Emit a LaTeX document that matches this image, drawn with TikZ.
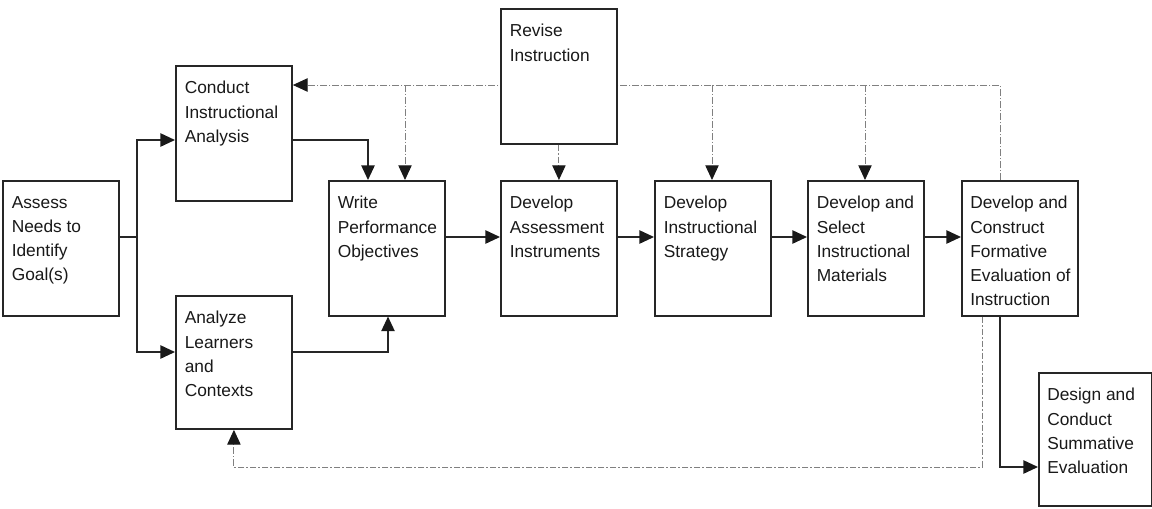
\documentclass[tikz,border=0pt]{standalone}
\usepackage{fontspec}
\setmainfont{Liberation Sans}
\usetikzlibrary{arrows.meta,backgrounds}
\begin{document}
\begin{tikzpicture}[x=0.75pt,y=-0.75pt,
  box/.style={draw=black!85, line width=1.4pt, fill=white, anchor=north west, inner sep=0pt, minimum width=87pt, minimum height=101pt},
  txt/.style={anchor=north west, inner sep=0pt, align=left, font=\fontsize{13}{18.2}\selectfont, text=black!90},
  tip/.style={-{Triangle[length=11pt,width=10pt,color=black!90]}},
  flow/.style={draw=black!85, line width=1.2pt, tip},
  plain/.style={draw=black!85, line width=1.2pt},
  fb/.style={draw=black!50, line width=0.7pt, dash pattern=on 5pt off 1.5pt on 1pt off 1.5pt, tip}]
\useasboundingbox (0,0) rectangle (1152,508);
% boxes
\node[box] (assess) at (2,180) {};
\node[box] (conduct) at (175,65) {};
\node[box, minimum height=99.75pt] (analyze) at (175,295) {};
\node[box] (write) at (328,180) {};
\node[box] (assessinst) at (500,180) {};
\node[box] (revise) at (500,8) {};
\node[box] (strategy) at (654,180) {};
\node[box] (select) at (807,180) {};
\node[box] (formative) at (961,180) {};
\node[box, minimum width=84.75pt, minimum height=99.75pt] (summative) at (1038,372) {};
% texts
\node[txt] (assess-t) at (11.5,196) {Assess\\Needs to\\Identify\\Goal(s)};
\node[txt] (conduct-t) at (184.5,81) {Conduct\\Instructional\\Analysis};
\node[txt] (analyze-t) at (184.5,311) {Analyze\\Learners\\and\\Contexts};
\node[txt] (write-t) at (337.5,196) {Write\\Performance\\Objectives};
\node[txt] (assessinst-t) at (509.5,196) {Develop\\Assessment\\Instruments};
\node[txt] (revise-t) at (509.5,24) {Revise\\Instruction};
\node[txt] (strategy-t) at (663.5,196) {Develop\\Instructional\\Strategy};
\node[txt] (select-t) at (816.5,196) {Develop and\\Select\\Instructional\\Materials};
\node[txt] (formative-t) at (970,196) {Develop and\\Construct\\Formative\\Evaluation of\\Instruction};
\node[txt] (summative-t) at (1047,388) {Design and\\Conduct\\Summative\\Evaluation};
% feedback (dash-dot) lines
\begin{pgfonlayer}{background}
\draw[fb] (1000,0 |- formative.north) |- (conduct.east |- 0,85);
\end{pgfonlayer}
\coordinate (fbw) at (405,85);
\coordinate (fbs) at (712,85);
\coordinate (fbm) at (865,85);
\draw[fb] (fbw) -- (fbw |- write.north);
\draw[fb] (fbs) -- (fbs |- strategy.north);
\draw[fb] (fbm) -- (fbm |- select.north);
\draw[fb] (revise.south) -- (assessinst.north);
\draw[fb] (982,0 |- formative.south) |- (analyze.south |- 0,467) -- (analyze.south);
% solid flow
\coordinate (split) at (137,237);
\draw[plain] (assess.east |- split) -- (split);
\draw[flow] (split) |- (conduct.west |- 0,140);
\draw[flow] (split) |- (analyze.west |- 0,352);
\draw[flow] (conduct.east |- 0,140) -| (368,0 |- write.north);
\draw[flow] (analyze.east |- 0,352) -| (388,0 |- write.south);
\draw[flow] (write.east |- 0,237) -- (assessinst.west |- 0,237);
\draw[flow] (assessinst.east |- 0,237) -- (strategy.west |- 0,237);
\draw[flow] (strategy.east |- 0,237) -- (select.west |- 0,237);
\draw[flow] (select.east |- 0,237) -- (formative.west |- 0,237);
\draw[flow] (1000,0 |- formative.south) |- (summative.west |- 0,467);
\end{tikzpicture}
\end{document}
